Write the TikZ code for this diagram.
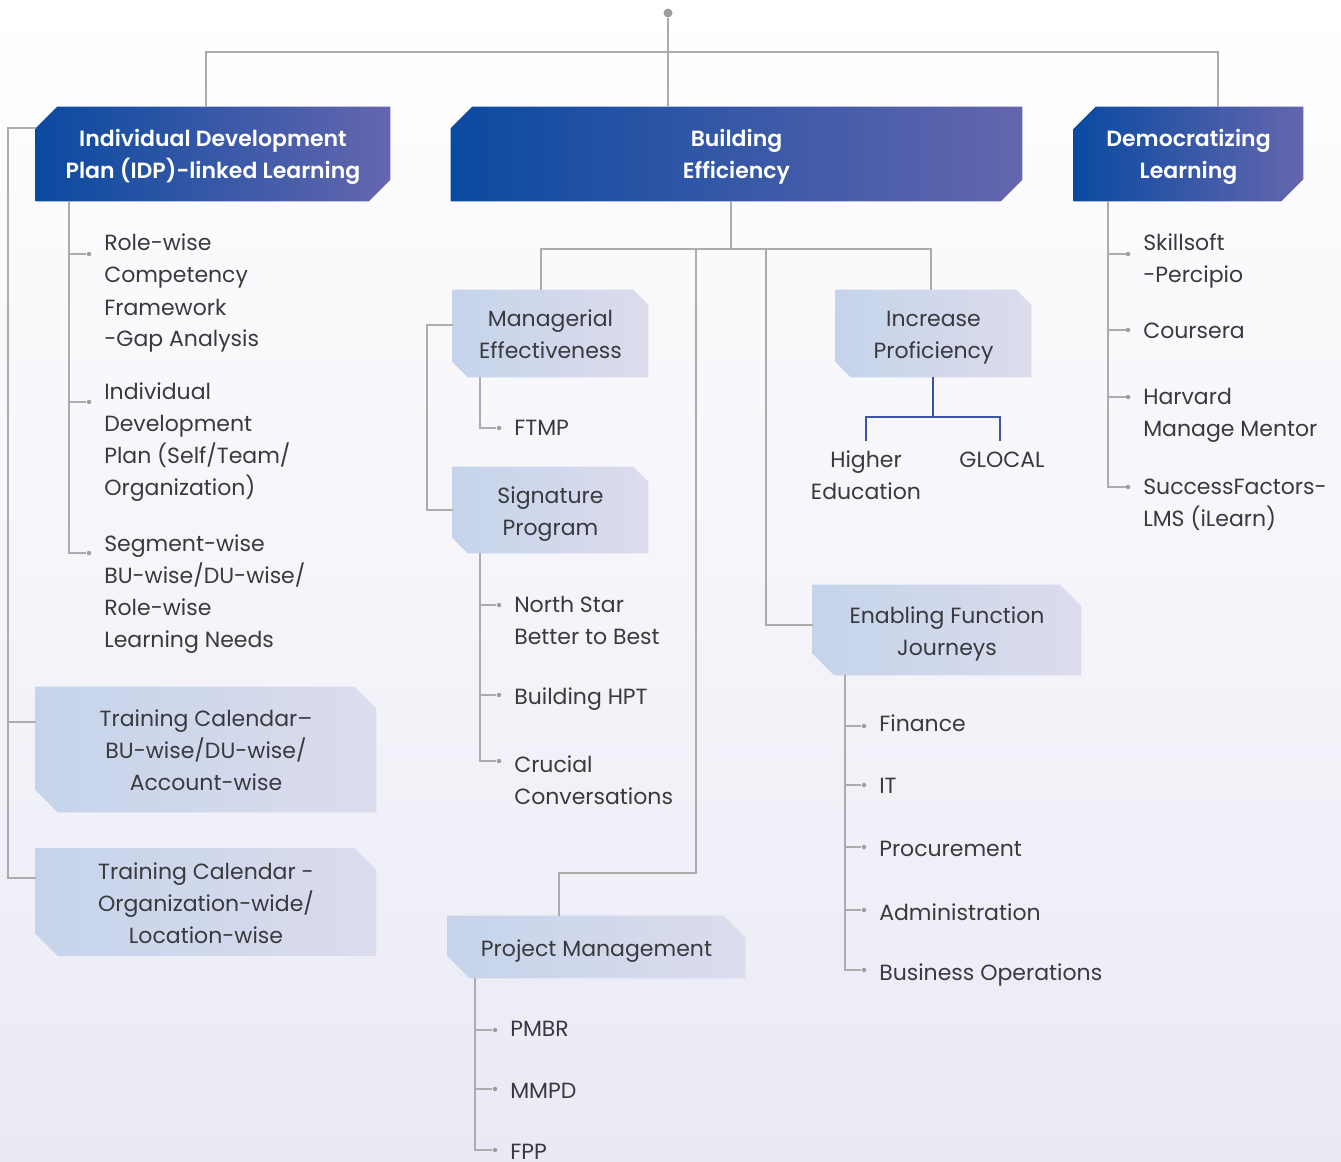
\documentclass[tikz,border=0pt]{standalone}
\usepackage{fontspec}
\setmainfont{Poppins}
\newfontfamily\hdrfam{Poppins SemiBold}
\usetikzlibrary{calc}
\pgfdeclarelayer{backdrop}
\pgfdeclarelayer{plates}
\pgfsetlayers{backdrop,plates,main}

\definecolor{linegrey}{RGB}{172,172,172}
\definecolor{dotgrey}{RGB}{158,158,158}
\definecolor{ink}{RGB}{58,58,62}
\definecolor{hdrA}{RGB}{10,74,160}
\definecolor{hdrB}{RGB}{100,102,174}
\definecolor{subA}{RGB}{197,212,234}
\definecolor{subB}{RGB}{220,220,237}
\definecolor{tieblue}{RGB}{58,84,168}
\definecolor{bgA}{RGB}{246,246,251}
\definecolor{bgB}{RGB}{234,234,245}

\newcommand\itemfont{\fontsize{16.5}{24}\selectfont}
\newcommand\hdrfont{\hdrfam\fontsize{16.5}{24}\selectfont}

\tikzset{
  x=0.75pt, y=-0.75pt,
  % fixed text box heights (by line count) keep every block centred the same way
  l1/.style={text height=17.5pt, text depth=4pt},
  l2/.style={text height=41.5pt, text depth=4pt},
  l3/.style={text height=65.5pt, text depth=4pt},
  l4/.style={text height=89.5pt, text depth=4pt},
  box/.style 2 args={rectangle, inner sep=0pt, minimum width=#1*0.75pt,
    minimum height=#2*0.75pt, align=center},
  hdr/.style={text=white, font=\hdrfont},
  sub/.style={text=ink, font=\itemfont},
  item/.style={anchor=west, inner sep=0pt, align=left, text=ink, font=\itemfont},
  leaf/.style={inner sep=0pt, align=center, text=ink, font=\itemfont},
  conn/.style={draw=linegrey, line width=1pt},
  tie/.style={draw=tieblue, line width=1.1pt},
  dot/.style={circle, fill=dotgrey, inner sep=0pt, minimum size=4.5*0.75pt},
}

% dark plate: cut at top-left and bottom-right
\newcommand\hdrplate[2]{%
  \begin{pgfonlayer}{plates}
    \shade[left color=hdrA, right color=hdrB]
      let \p1=(#1.north west), \p2=(#1.south east) in
      (\x1,\y1-#2) -- (\x1+#2,\y1) -- (\x2,\y1) -- (\x2,\y2+#2)
      -- (\x2-#2,\y2) -- (\x1,\y2) -- cycle;
  \end{pgfonlayer}}
% light plate: cut at top-right and bottom-left
\newcommand\subplate[2]{%
  \begin{pgfonlayer}{plates}
    \shade[left color=subA, right color=subB]
      let \p1=(#1.north west), \p2=(#1.south east) in
      (\x1,\y1) -- (\x2-#2,\y1) -- (\x2,\y1-#2) -- (\x2,\y2)
      -- (\x1+#2,\y2) -- (\x1,\y2+#2) -- cycle;
  \end{pgfonlayer}}

\begin{document}
\begin{tikzpicture}
\useasboundingbox (0,0) rectangle (1341,1162);
\begin{pgfonlayer}{backdrop}
  \shade[top color=white, middle color=bgA, bottom color=bgB] (0,0) rectangle (1341,1162);
\end{pgfonlayer}

% ---------- main headings ----------
\node[box={354}{94}, hdr, l2] (idp) at (213,154) {Individual Development\\Plan (IDP)-linked Learning};
\node[box={571}{94}, hdr, l2] (bef) at (736.5,154) {Building\\Efficiency};
\node[box={229}{94}, hdr, l2] (dem) at (1188.5,154) {Democratizing\\Learning};
\hdrplate{idp}{16pt}
\hdrplate{bef}{16pt}
\hdrplate{dem}{16.5pt}

% ---------- second-level boxes ----------
\node[box={195}{87}, sub, l2] (mgr) at (550.5,333.5) {Managerial\\Effectiveness};
\node[box={195}{86}, sub, l2] (sig) at (550.5,510) {Signature\\Program};
\node[box={195}{87}, sub, l2] (inc) at (933.5,333.5) {Increase\\Proficiency};
\node[box={268}{90}, sub, l2] (efj) at (947,630) {Enabling Function\\Journeys};
\node[box={340}{125}, sub, l3] (tca) at (206,749.5) {Training Calendar–\\BU-wise/DU-wise/\\Account-wise};
\node[box={340}{107}, sub, l3] (tcb) at (206,902) {Training Calendar -\\Organization-wide/\\Location-wise};
\node[box={297}{62}, sub, l1] (pm) at (596.5,947) {Project Management};
\subplate{mgr}{11.25pt}
\subplate{sig}{11.25pt}
\subplate{inc}{11.25pt}
\subplate{efj}{16pt}
\subplate{tca}{16.5pt}
\subplate{tcb}{16.5pt}
\subplate{pm}{16.5pt}

% ---------- root and top bar ----------
\node[circle, fill=dotgrey, inner sep=0pt, minimum size=9*0.75pt] (root) at (668,13) {};
\coordinate (barl) at (206,52);
\coordinate (barr) at (1218,52);
\draw[conn] (root) -- (root |- bef.north);
\draw[conn] (barl |- idp.north) -- (barl) -- (barr) -- (barr |- dem.north);

% ---------- left bracket ----------
\coordinate (lbra) at (8,128);
\coordinate (lbrb) at (8,722);
\coordinate (lbrc) at (8,878);
\draw[conn] (idp.west |- lbra) -- (lbra) -- (lbrc) -- (tcb.west |- lbrc);
\draw[conn] (lbrb) -- (tca.west |- lbrb);

% ---------- IDP items ----------
\node[item, l4] (r1) at (104,290) {Role-wise\\Competency\\Framework\\-Gap Analysis};
\node[item, l4] (r2) at (104,438) {Individual\\Development\\Plan (Self/Team/\\Organization)};
\node[item, l4] (r3) at (104,590) {Segment-wise\\BU-wise/DU-wise/\\Role-wise\\Learning Needs};
\node[dot] (r1d) at (89,254) {};
\node[dot] (r2d) at (89,402) {};
\node[dot] (r3d) at (89,553) {};
\coordinate (idpsp) at (69,201);
\draw[conn] (idpsp) |- (r3d);
\draw[conn] (r1d -| idpsp) -- (r1d);
\draw[conn] (r2d -| idpsp) -- (r2d);

% ---------- Building Efficiency branches ----------
\coordinate (bej) at (731,249);
\coordinate (mgrj) at (541,249);
\coordinate (incj) at (931,249);
\coordinate (pmj) at (696,249);
\coordinate (pmk) at (696,873);
\coordinate (pml) at (559,873);
\coordinate (efjj) at (766,249);
\coordinate (efjk) at (766,625);
\draw[conn] (bej |- bef.south) -- (bej);
\draw[conn] (mgrj |- mgr.north) -- (mgrj) -- (incj) -- (incj |- inc.north);
\draw[conn] (pmj) -- (pmk) -- (pml) -- (pml |- pm.north);
\draw[conn] (efjj) |- (efjk -| efj.west);

% managerial / signature bracket
\coordinate (msa) at (427,325);
\coordinate (msb) at (427,510);
\draw[conn] (mgr.west |- msa) -- (msa) -- (msb) -- (sig.west |- msb);

% FTMP
\node[item, l1] (ftmp) at (514,426) {FTMP};
\node[dot] (ftmpd) at (499,428) {};
\coordinate (mgrsp) at (480,377);
\draw[conn] (mgrsp) |- (ftmpd);

% signature items
\node[item, l2] (ns) at (514,619) {North Star\\Better to Best};
\node[item, l1] (hpt) at (514,695) {Building HPT};
\node[item, l2] (cc) at (514,779) {Crucial\\Conversations};
\node[dot] (nsd) at (499,605) {};
\node[dot] (hptd) at (499,695) {};
\node[dot] (ccd) at (499,761) {};
\coordinate (sigsp) at (480,553);
\draw[conn] (sigsp) |- (ccd);
\draw[conn] (nsd -| sigsp) -- (nsd);
\draw[conn] (hptd -| sigsp) -- (hptd);

% increase proficiency
\node[leaf, l2] (he) at (866,474) {Higher\\Education};
\node[leaf, l1] (gl) at (1002,458) {GLOCAL};
\coordinate (incb) at (933,417);
\coordinate (hej) at (866,441);
\coordinate (glj) at (1000,441);
\draw[tie] (incb |- inc.south) -- (incb);
\draw[tie] (hej) -- (hej |- incb) -- (glj |- incb) -- (glj);

% enabling function items
\node[item, l1] (fin) at (879,722) {Finance};
\node[item, l1] (it) at (879,784) {IT};
\node[item, l1] (proc) at (879,847) {Procurement};
\node[item, l1] (adm) at (879,911) {Administration};
\node[item, l1] (bo) at (879,971) {Business Operations};
\node[dot] (find) at (864,726) {};
\node[dot] (itd) at (864,785) {};
\node[dot] (procd) at (864,847) {};
\node[dot] (admd) at (864,910) {};
\node[dot] (bod) at (864,970) {};
\coordinate (efjsp) at (845,675);
\draw[conn] (efjsp) |- (bod);
\draw[conn] (find -| efjsp) -- (find);
\draw[conn] (itd -| efjsp) -- (itd);
\draw[conn] (procd -| efjsp) -- (procd);
\draw[conn] (admd -| efjsp) -- (admd);

% project management items
\node[item, l1] (pmbr) at (510,1027) {PMBR};
\node[item, l1] (mmpd) at (510,1089) {MMPD};
\node[item, l1] (fpp) at (510,1150) {FPP};
\node[dot] (pmbrd) at (495,1030) {};
\node[dot] (mmpdd) at (495,1089) {};
\node[dot] (fppd) at (495,1150) {};
\coordinate (pmsp) at (475,978);
\draw[conn] (pmsp) |- (fppd);
\draw[conn] (pmbrd -| pmsp) -- (pmbrd);
\draw[conn] (mmpdd -| pmsp) -- (mmpdd);

% democratizing items
\node[item, l2] (sk) at (1143,258) {Skillsoft\\-Percipio};
\node[item, l1] (cou) at (1143,330) {Coursera};
\node[item, l2] (hmm) at (1143,411) {Harvard\\Manage Mentor};
\node[item, l2] (sf) at (1143,501) {SuccessFactors-\\LMS (iLearn)};
\node[dot] (skd) at (1128,254) {};
\node[dot] (coud) at (1128,330) {};
\node[dot] (hmmd) at (1128,397) {};
\node[dot] (sfd) at (1128,487) {};
\coordinate (demsp) at (1108,201);
\draw[conn] (demsp) |- (sfd);
\draw[conn] (skd -| demsp) -- (skd);
\draw[conn] (coud -| demsp) -- (coud);
\draw[conn] (hmmd -| demsp) -- (hmmd);
\end{tikzpicture}
\end{document}
